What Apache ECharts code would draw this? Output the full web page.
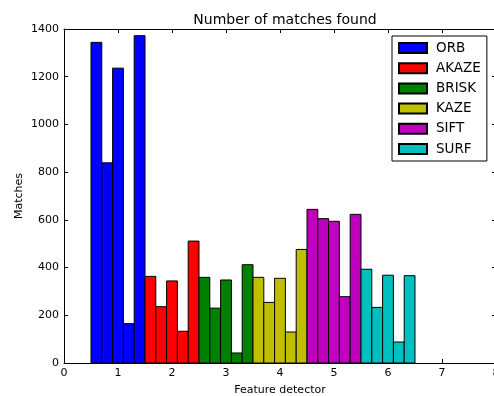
<!DOCTYPE html>
<html><head><meta charset="utf-8">
<script src="https://cdn.jsdelivr.net/npm/echarts@6/dist/echarts.min.js"></script>
<style>html,body{margin:0;padding:0;background:#fff}#c{width:494px;height:396px}</style>
</head><body><div id="c"></div>
<script>
const detectors = ['ORB','AKAZE','BRISK','KAZE','SIFT','SURF'];
const colors = ['#0000ff','#ff0000','#008000','#bfbf00','#bf00bf','#00bfbf'];
const groupPositions = [1,2,3,4,5,6];
const orb   = [1344, 839, 1236, 165, 1372];
const akaze = [363, 236, 344, 133, 511];
const brisk = [359, 230, 348, 42, 412];
const kaze  = [359, 254, 355, 130, 476];
const sift  = [644, 605, 594, 278, 623];
const surf  = [393, 233, 368, 88, 366];
const values = [orb, akaze, brisk, kaze, sift, surf];
const xTicks = [0,1,2,3,4,5,6,7,8];
const yTicks = [0,200,400,600,800,1000,1200,1400];
const barW = 0.2;

const font = 'DejaVu Sans';
const series = detectors.map((name, g) => ({
  name, type: 'custom', xAxisIndex: 0, yAxisIndex: 0,
  itemStyle: {color: colors[g], borderColor: '#000', borderWidth: 1},
  encode: {x: [0,1], y: 2},
  data: values[g].map((v, i) => {
    const x0 = groupPositions[g] - 0.5 + i * barW;
    return [x0, x0 + barW, v];
  }),
  renderItem: (params, api) => {
    const p0 = api.coord([api.value(0), api.value(2)]);
    const p1 = api.coord([api.value(1), 0]);
    return {type: 'rect', shape: {x: p0[0], y: p0[1], width: p1[0]-p0[0], height: p1[1]-p0[1]},
      style: api.style()};
  }
}));

const axBase = {
  type: 'value', splitLine: {show: false},
  axisLine: {show: true, onZero: false, lineStyle: {color: '#000', width: 1}},
  axisTick: {show: true, inside: true, length: 4, lineStyle: {color: '#000'}},
  axisLabel: {color: '#000', fontFamily: font, fontSize: 11, formatter: v => String(v)}
};

const chart = echarts.init(document.getElementById('c'));
chart.setOption({
  animation: false,
  backgroundColor: '#fff',
  title: {text: 'Number of matches found', left: 280, textAlign: 'center', top: 8,
    textStyle: {fontFamily: font, fontSize: 14, fontWeight: 'normal', color: '#000'}},
  grid: {left: 64, top: 29, right: -2, bottom: 33, containLabel: false, outerBoundsMode: 'none'},
  legend: {
    orient: 'vertical', left: 392, top: 36, data: detectors,
    itemWidth: 28, itemHeight: 10, itemGap: 6.2,
    padding: [5, 6, 5, 6], borderColor: '#000', borderWidth: 1,
    icon: 'rect',
    textStyle: {fontFamily: font, fontSize: 13.5, color: '#000', padding: [0,0,0,4]}
  },
  xAxis: [
    Object.assign({}, axBase, {position: 'bottom', min: xTicks[0], max: xTicks[xTicks.length-1], interval: 1,
      name: 'Feature detector', nameLocation: 'middle', nameGap: 22, nameMoveOverlap: false,
      nameTextStyle: {fontFamily: font, fontSize: 11, color: '#000'},
      axisLabel: Object.assign({}, axBase.axisLabel, {margin: 5})}),
    Object.assign({}, axBase, {position: 'top', min: xTicks[0], max: xTicks[xTicks.length-1], interval: 1,
      axisLabel: {show: false}})
  ],
  yAxis: [
    Object.assign({}, axBase, {position: 'left', min: yTicks[0], max: yTicks[yTicks.length-1], interval: 200,
      name: 'Matches', nameLocation: 'middle', nameGap: 39, nameMoveOverlap: false,
      nameTextStyle: {fontFamily: font, fontSize: 11, color: '#000'},
      axisLabel: Object.assign({}, axBase.axisLabel, {margin: 5})}),
    Object.assign({}, axBase, {position: 'right', min: yTicks[0], max: yTicks[yTicks.length-1], interval: 200,
      axisLabel: {show: false}})
  ],
  series
});
</script></body></html>
